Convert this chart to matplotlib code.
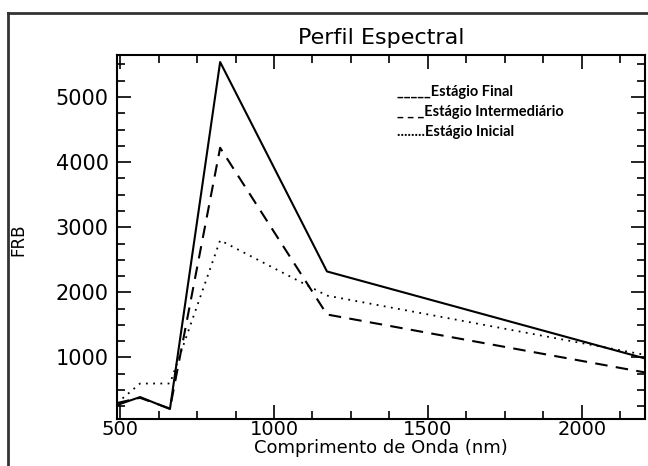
import matplotlib
matplotlib.use("Agg")
import matplotlib.pyplot as plt
from matplotlib.lines import Line2D
from matplotlib.ticker import MultipleLocator

# wavelengths (nm) and reflectance (FRB)
wavelength = [490, 565, 662, 825, 1172, 2205]
final_stage = [270, 392, 208, 5537, 2321, 985]
intermediate_stage = [300, 380, 215, 4220, 1660, 770]
initial_stage = [300, 600, 600, 2800, 1950, 1040]

x_ticks = [500, 1000, 1500, 2000]
y_ticks = [1000, 2000, 3000, 4000, 5000]

fig = plt.figure(figsize=(6.48, 4.66), dpi=100)
ax = fig.add_axes([117 / 648, 47 / 466, 528 / 648, 364 / 466])

ax.plot(wavelength, final_stage, color="black", lw=1.5, ls="-")
ax.plot(wavelength, intermediate_stage, color="black", lw=1.5, ls=(0, (6, 4)))
ax.plot(wavelength, initial_stage, color="black", lw=1.3, ls=(0, (1, 3)))

ax.set_xlim(490, 2205)
ax.set_ylim(55, 5645)
ax.set_xticks(x_ticks)
ax.set_yticks(y_ticks)
ax.xaxis.set_minor_locator(MultipleLocator(125))
ax.yaxis.set_minor_locator(MultipleLocator(250))
ax.tick_params(which="both", direction="in", top=True, right=True, width=1.2,
               labelsize=15, pad=6)
ax.tick_params(axis="x", which="both", pad=1, labelsize=14)
ax.tick_params(which="major", length=10)
ax.tick_params(which="minor", length=6)
for s in ax.spines.values():
    s.set_linewidth(1.5)

ax.set_title("Perfil Espectral", fontsize=16, pad=8)
ax.set_xlabel("Comprimento de Onda (nm)", fontsize=13, labelpad=0)
fig.text(18 / 648, 1 - 240 / 466, "FRB", rotation=90, fontsize=12,
         ha="center", va="center")

# legend written as text, like in the original figure
legend_lines = ["_____Estágio Final", "_ _ _Estágio Intermediário", "........Estágio Inicial"]
for i, txt in enumerate(legend_lines):
    fig.text(397 / 648, 1 - (92 + 20 * i) / 466, txt, fontsize=10.5, family="Lato",
             fontweight="bold", ha="left", va="center")

# outer frame around the figure
fig.add_artist(Line2D([8 / 648, 8 / 648], [0, 1 - 13 / 466], color="#333333", lw=2))
fig.add_artist(Line2D([8 / 648, 1], [1 - 13 / 466, 1 - 13 / 466], color="#333333", lw=2))

fig.savefig("out.png", dpi=100)
